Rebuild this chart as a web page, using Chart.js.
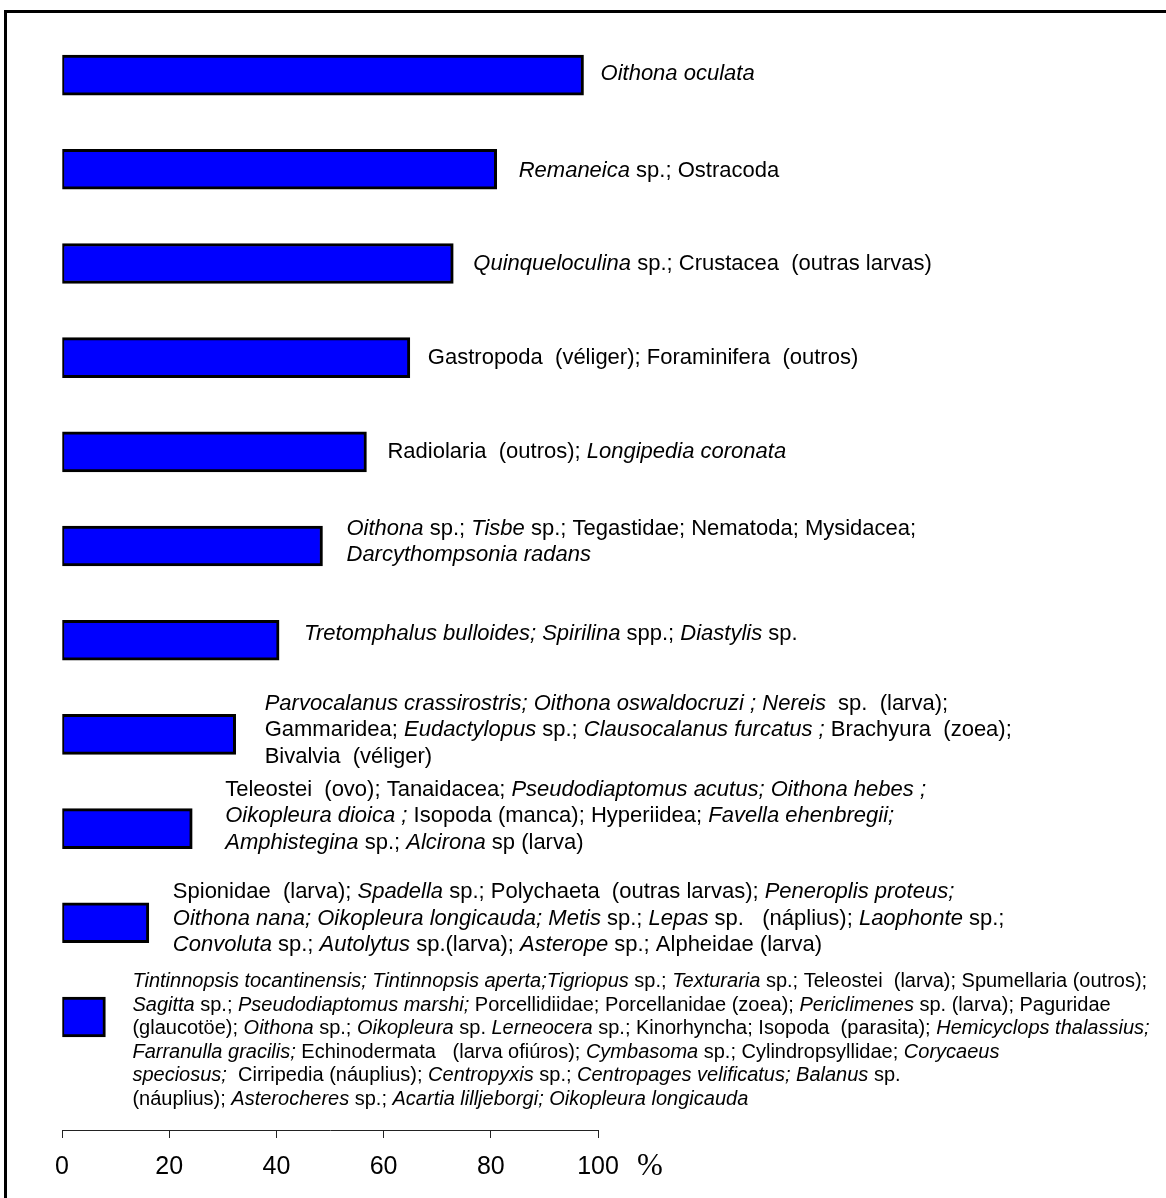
<!DOCTYPE html>
<html>
<head>
<meta charset="utf-8">
<script src="https://cdn.jsdelivr.net/npm/chart.js@4.4.1/dist/chart.umd.min.js"></script>
<style>
  html, body { margin: 0; padding: 0; background: #fff; }
  #wrap { position: relative; width: 1166px; height: 1198px; }
</style>
</head>
<body>
<div id="wrap"><canvas id="myChart"></canvas></div>
<script>
// taxa groups, one per bar (_text_ = italic, \n = new line)
const groups = [
  '_Oithona oculata_',
  '_Remaneica_ sp.; Ostracoda',
  '_Quinqueloculina_ sp.; Crustacea  (outras larvas)',
  'Gastropoda  (véliger); Foraminifera  (outros)',
  'Radiolaria  (outros); _Longipedia coronata_',
  '_Oithona_ sp.; _Tisbe_ sp.; Tegastidae; Nematoda; Mysidacea;\n_Darcythompsonia radans_',
  '_Tretomphalus bulloides; Spirilina_ spp.; _Diastylis_ sp.',
  '_Parvocalanus crassirostris; Oithona oswaldocruzi ; Nereis_  sp.  (larva);\nGammaridea; _Eudactylopus_ sp.; _Clausocalanus furcatus ;_ Brachyura  (zoea);\nBivalvia  (véliger)',
  'Teleostei  (ovo); Tanaidacea; _Pseudodiaptomus acutus; Oithona hebes ;_\n_Oikopleura dioica ;_ Isopoda (manca); Hyperiidea; _Favella ehenbregii;_\n_Amphistegina_ sp.; _Alcirona_ sp (larva)',
  'Spionidae  (larva); _Spadella_ sp.; Polychaeta  (outras larvas); _Peneroplis proteus;_\n_Oithona nana; Oikopleura longicauda; Metis_ sp.; _Lepas_ sp.   (náplius); _Laophonte_ sp.;\n_Convoluta_ sp.; _Autolytus_ sp.(larva); _Asterope_ sp.; Alpheidae (larva)',
  '_Tintinnopsis tocantinensis; Tintinnopsis aperta;Tigriopus_ sp.; _Texturaria_ sp.; Teleostei  (larva); Spumellaria (outros);\n_Sagitta_ sp.; _Pseudodiaptomus marshi;_ Porcellidiidae; Porcellanidae (zoea); _Periclimenes_ sp. (larva); Paguridae\n(glaucotöe); _Oithona_ sp.; _Oikopleura_ sp. _Lerneocera_ sp.; Kinorhyncha; Isopoda  (parasita); _Hemicyclops thalassius;_\n_Farranulla gracilis;_ Echinodermata   (larva ofiúros); _Cymbasoma_ sp.; Cylindropsyllidae; _Corycaeus_\n_speciosus;_  Cirripedia (náuplius); _Centropyxis_ sp.; _Centropages velificatus; Balanus_ sp.\n(náuplius); _Asterocheres_ sp.; _Acartia lilljeborgi; Oikopleura longicauda_'
];

// frequency of occurrence (%)
const percents = [97.3, 81.1, 73.0, 64.9, 56.8, 48.6, 40.5, 32.4, 24.3, 16.2, 8.1];

const xTicks = [0, 20, 40, 60, 80, 100];
const unitLabel = '%';

// label placement tweaks (gap after bar end, vertical shift)
const labelGap = [17, 22, 20, 18, 21, 24, 25, 29, 33, 24, 27];
const labelShift = [-3, 0, -1, -2, -2, -6, -8, -6, -14, -6, 22];

const frame = {
  id: 'frame',
  beforeDraw(chart) {
    const c = chart.ctx;
    c.save();
    c.fillStyle = '#000';
    c.fillRect(4, 10, chart.width, 3);
    c.fillRect(4, 10, 3, chart.height);
    c.restore();
  }
};

const taxaLabels = {
  id: 'taxaLabels',
  afterDatasetsDraw(chart) {
    const c = chart.ctx;
    const meta = chart.getDatasetMeta(0);
    c.save();
    c.fillStyle = '#000';
    c.textBaseline = 'alphabetic';
    c.textAlign = 'left';
    meta.data.forEach((bar, i) => {
      const small = i === groups.length - 1;
      const size = small ? 20 : 22;
      const lh = small ? 23.5 : 26.5;
      const lines = groups[i].split('\n');
      let y = bar.y - (lines.length - 1) * lh / 2 + size * 0.716 / 2 + labelShift[i];
      lines.forEach(line => {
        let x = bar.x + labelGap[i];
        line.split('_').forEach((part, k) => {
          if (!part) return;
          c.font = (k % 2 ? 'italic ' : '') + size + 'px "Liberation Sans", Arial, sans-serif';
          c.fillText(part, x, y);
          x += c.measureText(part).width;
        });
        y += lh;
      });
    });
    // unit sign next to the axis
    const xs = chart.scales.x;
    c.font = '31px "Liberation Serif", "Times New Roman", serif';
    c.fillText(unitLabel, xs.right + 39, xs.top + 45);
    c.restore();
  }
};

const ctx = document.getElementById('myChart');

new Chart(ctx, {
  type: 'bar',
  data: {
    datasets: [{
      data: percents.map((v, i) => ({ x: v, y: i })),
      backgroundColor: '#0000ff',
      borderColor: '#000',
      borderWidth: { top: 3, bottom: 3, left: 2, right: 3 },
      borderSkipped: false,
      barThickness: 40
    }]
  },
  options: {
    indexAxis: 'y',
    responsive: true,
    maintainAspectRatio: false,
    animation: false,
    layout: {
      padding: { top: 28, left: 62, right: 568, bottom: 0 }
    },
    scales: {
      x: {
        type: 'linear',
        min: 0,
        max: 100,
        afterBuildTicks: (scale) => { scale.ticks = xTicks.map(v => ({ value: v })); },
        afterFit: (scale) => { scale.height = 68; },
        ticks: {
          color: '#000',
          padding: 14,
          maxRotation: 0,
          font: { family: '"Liberation Sans", Arial, sans-serif', size: 25 }
        },
        grid: {
          drawOnChartArea: false,
          tickLength: 8,
          color: '#222'
        },
        border: { display: true, color: '#222', width: 1 }
      },
      y: {
        type: 'linear',
        reverse: true,
        offset: false,
        min: -0.5,
        max: 11.2,
        display: false
      }
    },
    plugins: {
      legend: { display: false },
      tooltip: { enabled: false }
    }
  },
  plugins: [frame, taxaLabels]
});
</script>
</body>
</html>
